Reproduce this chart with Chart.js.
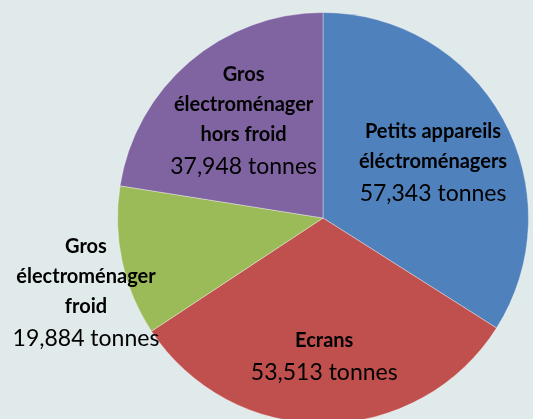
<!DOCTYPE html>
<html>
<head>
<meta charset="utf-8">
<script src="https://cdn.jsdelivr.net/npm/chart.js@4"></script>
<style>
  html, body { margin: 0; padding: 0; background: #e1eaea; overflow: hidden; }
  #wrap { width: 533px; height: 430px; }
</style>
</head>
<body>
<div id="wrap"><canvas id="pieChart"></canvas></div>
<script>
const CATEGORIES = [
    ['Petits appareils', 'éléctroménagers'],
    ['Ecrans'],
    ['Gros', 'électroménager', 'froid'],
    ['Gros', 'électroménager', 'hors froid']
];
const TONNES = [57343, 53513, 19884, 37948];
const VALUE_LABELS = ['57,343 tonnes', '53,513 tonnes', '19,884 tonnes', '37,948 tonnes'];

const couleurs = ['#4f81bd', '#c0504d', '#9bbb59', '#8064a2'];
// distance of each label from centre (fraction of radius) + small nudges in px
const labelRadius = [0.6, 0.67, 1.21, 0.61];
const labelNudge = [[2, 4], [0, 1], [6, 22], [2, -2]];

const labelsPlugin = {
    id: 'sliceLabels',
    afterDatasetsDraw(chart) {
        const ctx = chart.ctx;
        const arcs = chart.getDatasetMeta(0).data;
        ctx.save();
        ctx.fillStyle = '#000';
        ctx.textAlign = 'center';
        ctx.textBaseline = 'middle';
        arcs.forEach((arc, i) => {
            const mid = (arc.startAngle + arc.endAngle) / 2;
            const r = arc.outerRadius * labelRadius[i];
            const cx = arc.x + Math.cos(mid) * r + labelNudge[i][0];
            const cy = arc.y + Math.sin(mid) * r + labelNudge[i][1];
            const lines = CATEGORIES[i];
            const lh = 30;
            const height = (lines.length - 1) * lh + 32;
            let y = cy - height / 2;
            ctx.font = 'bold 20px Lato';
            lines.forEach(l => { ctx.fillText(l, cx, y); y += lh; });
            ctx.font = '23px Lato';
            ctx.fillText(VALUE_LABELS[i], cx, y - lh + 32);
        });
        ctx.restore();
    }
};

const ctxPie = document.getElementById('pieChart').getContext('2d');
new Chart(ctxPie, {
    type: 'pie',
    data: {
        labels: CATEGORIES.map(c => c.join(' ')),
        datasets: [{
            data: TONNES,
            backgroundColor: couleurs,
            borderColor: 'rgba(255,255,255,0.35)',
            borderWidth: 1
        }]
    },
    options: {
        responsive: true,
        maintainAspectRatio: false,
        animation: false,
        layout: { padding: { left: 117, right: 4, top: 12, bottom: 6 } },
        plugins: { legend: { display: false }, tooltip: { enabled: false } }
    },
    plugins: [labelsPlugin]
});
</script>
</body>
</html>
